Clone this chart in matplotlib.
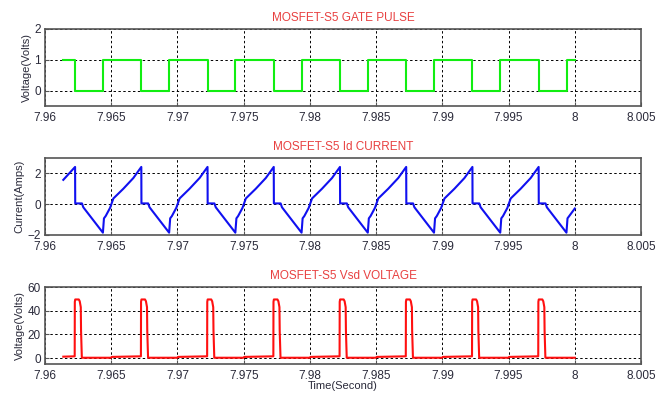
import numpy as np
import matplotlib
matplotlib.use("Agg")
import matplotlib.pyplot as plt

# time axis (s)
x_ticks = [7.96, 7.965, 7.97, 7.975, 7.98, 7.985, 7.99, 7.995, 8.0, 8.005]
x_tick_labels = ['7.96', '7.965', '7.97', '7.975', '7.98', '7.985', '7.99', '7.995', '8', '8.005']
t0 = 7.96  # all sample times below are in ms after t0

# gate pulse edges (ms after t0) and level after each edge
gate_ms = [1.38, 2.27, 4.38, 7.27, 9.38, 12.27, 14.38, 17.27, 19.38,
           22.27, 24.38, 27.27, 29.38, 32.27, 34.38, 37.27, 39.38, 40.0]
gate_v = [1, 0, 1, 0, 1, 0, 1, 0, 1, 0, 1, 0, 1, 0, 1, 0, 1, 1]

# drain current
id_ms = [1.38,
         2.27, 2.28, 2.79, 2.89, 4.37, 4.45, 4.58, 4.91, 5.16, 5.91, 6.67,
         7.27, 7.28, 7.79, 7.89, 9.37, 9.45, 9.58, 9.91, 10.16, 10.91, 11.67,
         12.27, 12.28, 12.79, 12.89, 14.37, 14.45, 14.58, 14.91, 15.16, 15.91, 16.67,
         17.27, 17.28, 17.79, 17.89, 19.37, 19.45, 19.58, 19.91, 20.16, 20.91, 21.67,
         22.27, 22.28, 22.79, 22.89, 24.37, 24.45, 24.58, 24.91, 25.16, 25.91, 26.67,
         27.27, 27.28, 27.79, 27.89, 29.37, 29.45, 29.58, 29.91, 30.16, 30.91, 31.67,
         32.27, 32.28, 32.79, 32.89, 34.37, 34.45, 34.58, 34.91, 35.16, 35.91, 36.67,
         37.27, 37.28, 37.79, 37.89, 39.37, 39.45, 39.58, 40.0]
id_a = [1.58,
        2.42, 0.05, 0.05, -0.20, -1.85, -0.92, -0.77, -0.24, 0.37, 1.00, 1.70,
        2.42, 0.05, 0.05, -0.20, -1.85, -0.92, -0.77, -0.24, 0.37, 1.00, 1.70,
        2.42, 0.05, 0.05, -0.20, -1.85, -0.92, -0.77, -0.24, 0.37, 1.00, 1.70,
        2.42, 0.05, 0.05, -0.20, -1.85, -0.92, -0.77, -0.24, 0.37, 1.00, 1.70,
        2.42, 0.05, 0.05, -0.20, -1.85, -0.92, -0.77, -0.24, 0.37, 1.00, 1.70,
        2.42, 0.05, 0.05, -0.20, -1.85, -0.92, -0.77, -0.24, 0.37, 1.00, 1.70,
        2.42, 0.05, 0.05, -0.20, -1.85, -0.92, -0.77, -0.24, 0.37, 1.00, 1.70,
        2.42, 0.05, 0.05, -0.20, -1.85, -0.92, -0.77, -0.28]

# source-drain voltage
vsd_ms = [1.38,
          2.24, 2.25, 2.28, 2.55, 2.62, 2.70, 2.72, 2.78, 4.98, 5.04,
          7.24, 7.25, 7.28, 7.55, 7.62, 7.70, 7.72, 7.78, 9.98, 10.04,
          12.24, 12.25, 12.28, 12.55, 12.62, 12.70, 12.72, 12.78, 14.98, 15.04,
          17.24, 17.25, 17.28, 17.55, 17.62, 17.70, 17.72, 17.78, 19.98, 20.04,
          22.24, 22.25, 22.28, 22.55, 22.62, 22.70, 22.72, 22.78, 24.98, 25.04,
          27.24, 27.25, 27.28, 27.55, 27.62, 27.70, 27.72, 27.78, 29.98, 30.04,
          32.24, 32.25, 32.28, 32.55, 32.62, 32.70, 32.72, 32.78, 34.98, 35.04,
          37.24, 37.25, 37.28, 37.55, 37.62, 37.70, 37.72, 37.78, 40.0]
vsd_v = [1.2,
         1.5, 47.5, 49.5, 49.5, 48.0, 43.0, 23.0, 0.3, 0.3, 1.0,
         1.5, 47.5, 49.5, 49.5, 48.0, 43.0, 23.0, 0.3, 0.3, 1.0,
         1.5, 47.5, 49.5, 49.5, 48.0, 43.0, 23.0, 0.3, 0.3, 1.0,
         1.5, 47.5, 49.5, 49.5, 48.0, 43.0, 23.0, 0.3, 0.3, 1.0,
         1.5, 47.5, 49.5, 49.5, 48.0, 43.0, 23.0, 0.3, 0.3, 1.0,
         1.5, 47.5, 49.5, 49.5, 48.0, 43.0, 23.0, 0.3, 0.3, 1.0,
         1.5, 47.5, 49.5, 49.5, 48.0, 43.0, 23.0, 0.3, 0.3, 1.0,
         1.5, 47.5, 49.5, 49.5, 48.0, 43.0, 23.0, 0.3, 0.3]

plt.rcParams['font.family'] = ['Liberation Sans', 'DejaVu Sans']
plt.rcParams['font.size'] = 8.5

fig = plt.figure(figsize=(6.68, 3.94), dpi=100)
left, width, height = 0.0674, 0.8922, 0.1954
bottoms = [0.731, 0.4036, 0.0761]

panels = [
    (gate_ms, gate_v, '#11ee11', 'MOSFET-S5 GATE PULSE', 'Voltage(Volts)', (-0.5, 2), [0, 1, 2], True),
    (id_ms, id_a, '#1010f0', 'MOSFET-S5 Id CURRENT', 'Current(Amps)', (-2, 3), [-2, 0, 2], False),
    (vsd_ms, vsd_v, '#ff1010', 'MOSFET-S5 Vsd VOLTAGE', 'Voltage(Volts)', (-5, 60), [0, 20, 40, 60], False),
]

for b, (tms, vals, col, title, ylab, ylim, yt, step) in zip(bottoms, panels):
    ax = fig.add_axes([left, b, width, height])
    t = t0 + np.array(tms) / 1000.0
    if step:
        ax.plot(t, vals, color=col, lw=1.5, drawstyle='steps-post')
    else:
        ax.plot(t, vals, color=col, lw=1.5)
    ax.set_xlim(7.96, 8.005)
    ax.set_ylim(*ylim)
    ax.set_xticks(x_ticks)
    ax.set_xticklabels(x_tick_labels)
    ax.set_yticks(yt)
    ax.grid(True, color='black', linestyle=(0, (2.5, 2.5)), linewidth=0.7)
    ax.tick_params(direction='in', length=3, width=0.8, colors='#555555',
                   labelcolor='#2a2a3a', labelsize=8.5)
    ax.tick_params(axis='x', pad=4)
    ax.tick_params(axis='y', pad=3)
    for s in ax.spines.values():
        s.set_color('#555555')
        s.set_linewidth(1.2)
    ax.set_title(title, color='#e84040', fontsize=8.5, pad=6)
    ax.set_ylabel(ylab, color='#2a2a3a', fontsize=8, labelpad=2)

ax.set_xlabel('Time(Second)', color='#2a2a3a', fontsize=8)
ax.xaxis.set_label_coords(0.5, -0.225)

fig.savefig('out.png', dpi=100)
